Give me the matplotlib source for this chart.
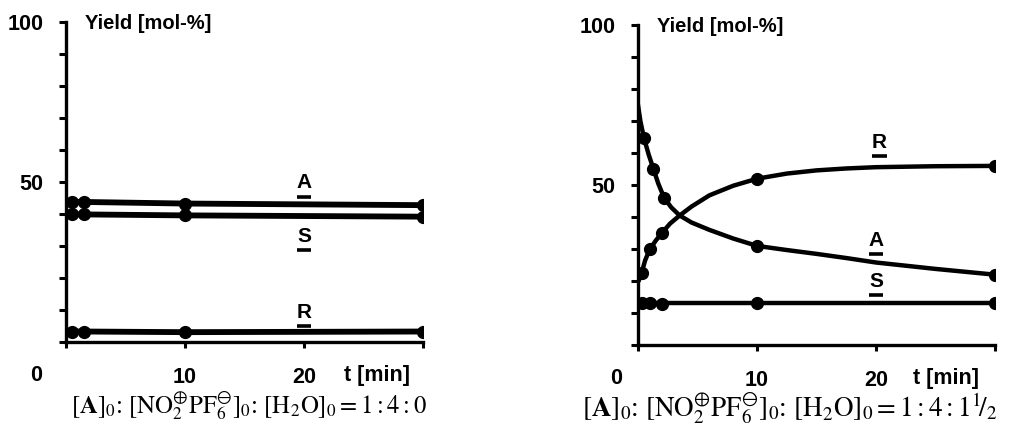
import numpy as np
import matplotlib.pyplot as plt

plt.rcParams['mathtext.fontset'] = 'stix'

# left panel: [A]0:[NO2PF6]0:[H2O]0 = 1:4:0
t1 = [0.5, 1.5, 10, 30]
A1 = [43.8, 43.8, 43.3, 42.8]
S1 = [39.9, 39.9, 39.6, 39.2]
R1 = [3.3, 3.3, 3.1, 3.3]

# right panel: 1:4:1.5 (measured points)
tA2 = [0.5, 1.3, 2.2, 10, 30]
A2 = [64.7, 55, 46, 31, 22]
tR2 = [0.3, 1.0, 2.0, 10, 30]
R2 = [22.5, 30, 35, 52, 56]
tS2 = [0.3, 1.0, 2.0, 10, 30]
S2 = [13.1, 13.2, 12.9, 13.1, 13.1]

# drawn curves
tcA = [0, 0.2, 0.5, 0.9, 1.3, 1.7, 2.2, 2.8, 3.5, 4.5, 6, 8, 10, 12.5, 15, 17.5, 20, 22.5, 25, 27.5, 30]
cA = [75, 70, 64.7, 59.5, 55, 50.5, 46, 43, 40.5, 38.3, 36, 33.3, 31, 29.7, 28.5, 27.2, 25.8, 24.8, 23.8, 22.9, 22]
tcR = [0.1, 0.3, 0.6, 1.0, 1.5, 2.0, 2.7, 3.5, 4.5, 6, 8, 10, 12.5, 15, 17.5, 20, 25, 30]
cR = [20.5, 22.5, 26.5, 30, 32.7, 35, 38, 40.5, 43.3, 46.8, 49.8, 52, 53.6, 54.6, 55.2, 55.6, 55.9, 56]
tcS = [0, 30]
cS = [13.1, 13.1]

labfont = dict(family='Liberation Sans', fontweight='bold')
fs = 15.5


def frame(ax, caption, cx, cfs, x0, xt):
    ax.set_xlim(0, 30)
    ax.set_ylim(0, 100)
    for s in ['top', 'right']:
        ax.spines[s].set_visible(False)
    for s in ['left', 'bottom']:
        ax.spines[s].set_linewidth(2.4)
    ax.set_yticks(np.arange(0, 101, 10))
    ax.set_yticklabels(['' if v not in (50, 100) else str(v) for v in range(0, 101, 10)])
    ax.set_xticks([0, 10, 20, 30])
    ax.set_xticklabels(['', '10', '20', ''])
    ax.tick_params(axis='y', length=5, width=2.2, pad=11, labelsize=fs)
    ax.tick_params(axis='x', length=4, width=2.2, pad=14, labelsize=fs)
    for lab in ax.get_xticklabels() + ax.get_yticklabels():
        lab.set_fontfamily('Liberation Sans')
        lab.set_fontweight('bold')
    ax.text(x0, -10.3, '0', ha='center', va='center', fontsize=fs, **labfont)
    ax.text(xt, -10.3, 't [min]', ha='center', va='center', fontsize=fs, **labfont)
    ax.text(1.6, 99.5, 'Yield [mol-%]', ha='left', va='center', fontsize=14.5, **labfont)
    ax.text(cx, -0.197, caption, transform=ax.transAxes, ha='center', va='center',
            fontsize=cfs, family='Liberation Serif')


def ulabel(ax, x, y, s):
    ax.text(x, y, s, ha='center', va='bottom', fontsize=15, **labfont)
    ax.plot([x - 0.6, x + 0.6], [y - 1.3, y - 1.3], color='black', lw=2.6,
            solid_capstyle='butt', clip_on=False)


fig = plt.figure(figsize=(10.1, 4.26), dpi=100)
ax1 = fig.add_axes([0.0653, 0.197, 0.3535, 0.751])
ax2 = fig.add_axes([0.6317, 0.190, 0.3535, 0.751])

for y in [A1, S1, R1]:
    ax1.plot([0] + t1, [y[0]] + y, color='black', lw=4.2, solid_capstyle='round')
    ax1.plot(t1, y, 'o', color='black', ms=8.5)
frame(ax1, r'$[\mathbf{A}]_0$: $[\mathrm{NO}_2^{\oplus}\mathrm{PF}_6^{\ominus}]_0$: $[\mathrm{H_2O}]_0 = 1{:}4{:}0$',
      0.513, 17.8, -2.5, 26.1)
ulabel(ax1, 20, 46.8, 'A')
ulabel(ax1, 20, 30.0, 'S')
ulabel(ax1, 20, 6.4, 'R')

ax2.plot(tcA, cA, color='black', lw=3.2)
ax2.plot(tcR, cR, color='black', lw=3.2)
ax2.plot(tcS, cS, color='black', lw=3.2)
ax2.plot(tA2, A2, 'o', color='black', ms=8.5)
ax2.plot(tR2, R2, 'o', color='black', ms=8.5)
ax2.plot(tS2, S2, 'o', color='black', ms=8.5)
frame(ax2, r'$[\mathbf{A}]_0$: $[\mathrm{NO}_2^{\oplus}\mathrm{PF}_6^{\ominus}]_0$: $[\mathrm{H_2O}]_0 = 1{:}4{:}1^1\!/_2$',
      0.426, 19.5, -1.8, 25.9)
ulabel(ax2, 20.3, 60.5, 'R')
ulabel(ax2, 20, 29.8, 'A')
ulabel(ax2, 20, 16.8, 'S')

fig.savefig('out.png', dpi=100)
